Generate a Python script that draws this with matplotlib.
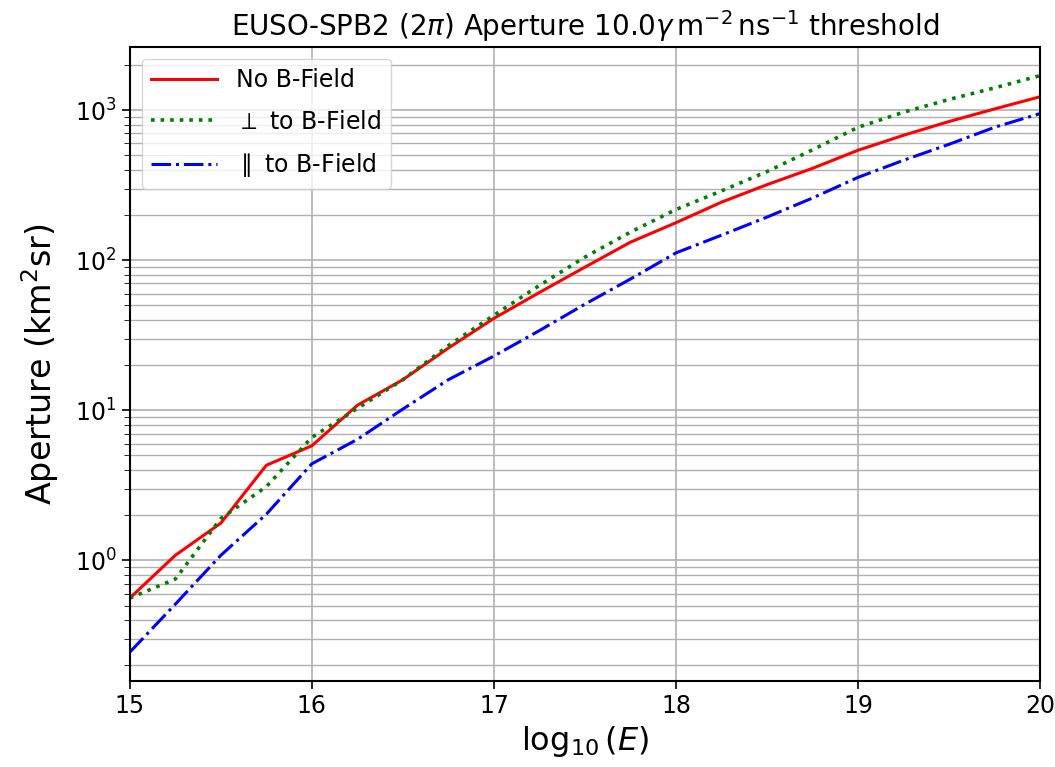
import numpy as np
from matplotlib import pyplot as plt

log_e = [15.0, 15.25, 15.5, 15.75, 16.0, 16.25, 16.5, 16.75, 17.0, 17.25, 17.5,
         17.75, 18.0, 18.25, 18.5, 18.75, 19.0, 19.25, 19.5, 19.75, 20.0]

no_field = [0.56, 1.08, 1.77, 4.3, 5.8, 10.8, 16, 26, 41, 61, 90,
            132, 178, 244, 319, 410, 541, 681, 841, 1020, 1230]

perp_field = [0.56, 0.75, 1.9, 3.1, 6.6, 10.3, 16, 27, 43, 68, 105,
              154, 218, 290, 390, 545, 770, 970, 1180, 1410, 1700]

par_field = [0.244, 0.51, 1.08, 2.03, 4.4, 6.4, 10.2, 16, 23, 34, 51,
             75, 112, 147, 194, 260, 357, 464, 593, 770, 950]

fig = plt.figure(figsize=(10.55, 7.67), dpi=100)
ax = fig.add_axes([0.123, 0.112, 0.863, 0.827])

ax.plot(log_e, no_field, color="red", lw=2.2, label="No B-Field")
ax.plot(log_e, perp_field, color="green", lw=2.6, ls=":", label=r"$\perp$ to B-Field")
ax.plot(log_e, par_field, color="blue", lw=2.2, ls="-.", label=r"$\parallel$ to B-Field")

ax.set_yscale("log")
ax.set_xlim(15, 20)
ax.grid(True, which="major", color="#b0b0b0", lw=1.2)
ax.grid(True, which="minor", axis="y", color="#b0b0b0", lw=1.0)

ax.tick_params(labelsize=17, width=1.2, length=6)
ax.tick_params(which="minor", length=4)
ax.set_xlabel(r"$\log_{10}(E)$", fontsize=23)
ax.set_ylabel(r"Aperture (km$^2$sr)", fontsize=24, labelpad=10)
ax.set_title(r"EUSO-SPB2 (2$\pi$) Aperture 10.0$\gamma\,\mathrm{m}^{-2}\,\mathrm{ns}^{-1}$ threshold",
             fontsize=20, pad=8)
for s in ax.spines.values():
    s.set_linewidth(1.5)

ax.legend(loc="upper left", fontsize=17, handlelength=2.8, labelspacing=0.75)

plt.savefig("out.png")
